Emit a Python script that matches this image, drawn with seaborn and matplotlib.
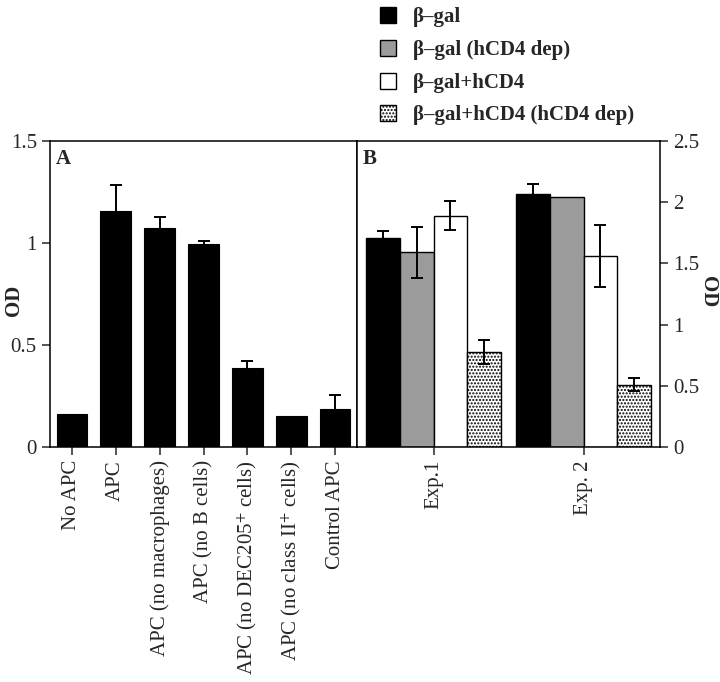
import matplotlib
matplotlib.use('Agg')
import matplotlib.pyplot as plt
import seaborn as sns
import pandas as pd
import numpy as np
from matplotlib.patches import Patch

# Panel A data
a_labels = ['No APC', 'APC', 'APC (no macrophages)', 'APC (no B cells)',
            'APC (no DEC205$^{+}$ cells)', 'APC (no class II$^{+}$ cells)', 'Control APC']
a_values = [0.16, 1.157, 1.073, 0.995, 0.387, 0.152, 0.186]
a_errors = [0.0, 0.125, 0.055, 0.015, 0.035, 0.0, 0.07]

# Panel B data
b_groups = ['Exp.1', 'Exp. 2']
b_series = ['\u03b2\u2013gal', '\u03b2\u2013gal (hCD4 dep)', '\u03b2\u2013gal+hCD4',
            '\u03b2\u2013gal+hCD4 (hCD4 dep)']
b_values = [[1.707, 2.07], [1.59, 2.04], [1.89, 1.56], [0.776, 0.51]]
b_errors = [[0.06, 0.08], [0.21, 0.0], [0.12, 0.25], [0.095, 0.05]]
b_colors = ['black', '#9b9b9b', 'white', 'white']
b_hatches = ['', '', '', '.....']

sns.set_style('ticks')
plt.rcParams['font.family'] = ['Liberation Serif', 'DejaVu Serif']
plt.rcParams['mathtext.fontset'] = 'stix'
plt.rcParams['hatch.linewidth'] = 1.0
plt.rcParams['axes.linewidth'] = 1.1


def draw_errors(ax, xs, vals, errs):
    # skip bars that have no error bar in the figure
    xs, vals, errs = np.array(xs), np.array(vals), np.array(errs)
    keep = errs > 0
    ax.errorbar(xs[keep], vals[keep], yerr=errs[keep], fmt='none', ecolor='black',
                elinewidth=1.4, capsize=4, capthick=1.4)


fig = plt.figure(figsize=(7.2, 6.82), dpi=100)
ax_a = fig.add_axes([50 / 720, 1 - 447 / 682, 307 / 720, 306 / 682])
ax_b = fig.add_axes([357 / 720, 1 - 447 / 682, 303 / 720, 306 / 682])

# ---- panel A
df_a = pd.DataFrame({'cond': a_labels, 'od': a_values})
sns.barplot(data=df_a, x='cond', y='od', color='black', width=0.7,
            edgecolor='black', linewidth=0.8, ax=ax_a)
bars = ax_a.containers[0]
draw_errors(ax_a, [p.get_x() + p.get_width() / 2 for p in bars], a_values, a_errors)
ax_a.set_xlim(-0.5, 6.5)
ax_a.set_ylim(0, 1.5)
ax_a.set_yticks([0, 0.5, 1, 1.5])
ax_a.set_yticklabels(['0', '0.5', '1', '1.5'])
ax_a.set_xticks(range(len(a_labels)))
ax_a.set_xticklabels(a_labels, rotation=90)
ax_a.set_xlabel('')
ax_a.set_ylabel('')
ax_a.tick_params(axis='both', labelsize=15, length=6, width=1.1, direction='out')
ax_a.text(0.02, 0.975, 'A', transform=ax_a.transAxes, fontsize=15,
          fontweight='bold', va='top', ha='left')
fig.text(14 / 720, 1 - 300 / 682, 'OD', fontsize=15, fontweight='bold',
         rotation=90, ha='center', va='center')

# ---- panel B
rows = []
for s, vals in zip(b_series, b_values):
    for g, v in zip(b_groups, vals):
        rows.append({'exp': g, 'series': s, 'od': v})
df_b = pd.DataFrame(rows)
sns.barplot(data=df_b, x='exp', y='od', hue='series', hue_order=b_series,
            palette=b_colors, width=0.9, edgecolor='black', linewidth=1.0,
            saturation=1, ax=ax_b, legend=False)
for cont, h, errs, vals in zip(ax_b.containers, b_hatches, b_errors, b_values):
    xs = []
    for p in cont:
        p.set_hatch(h)
        p.set_edgecolor('black')
        xs.append(p.get_x() + p.get_width() / 2)
    draw_errors(ax_b, xs, vals, errs)
ax_b.set_xlim(-0.51, 1.51)
ax_b.set_ylim(0, 2.5)
ax_b.yaxis.tick_right()
ax_b.set_yticks([0, 0.5, 1, 1.5, 2, 2.5])
ax_b.set_yticklabels(['0', '0.5', '1', '1.5', '2', '2.5'])
ax_b.set_xticks([0, 1])
ax_b.set_xticklabels(b_groups, rotation=90)
ax_b.set_xlabel('')
ax_b.set_ylabel('')
ax_b.tick_params(axis='both', labelsize=15, length=6, width=1.1, direction='out')
ax_b.text(0.02, 0.975, 'B', transform=ax_b.transAxes, fontsize=15,
          fontweight='bold', va='top', ha='left')
fig.text(708 / 720, 1 - 292 / 682, 'OD', fontsize=15, fontweight='bold',
         rotation=270, ha='center', va='center')

for ax in (ax_a, ax_b):
    for sp in ax.spines.values():
        sp.set_visible(True)
        sp.set_color('black')

handles = [Patch(facecolor=c, edgecolor='black', hatch=h, linewidth=1.0)
           for c, h in zip(b_colors, b_hatches)]
fig.legend(handles, b_series, loc='upper left', bbox_to_anchor=(361 / 720, 1.017),
           frameon=False, prop={'size': 15, 'weight': 'bold'},
           handlelength=0.8, handleheight=0.8, handletextpad=0.8, labelspacing=0.6)

fig.savefig('out.png', dpi=100)
